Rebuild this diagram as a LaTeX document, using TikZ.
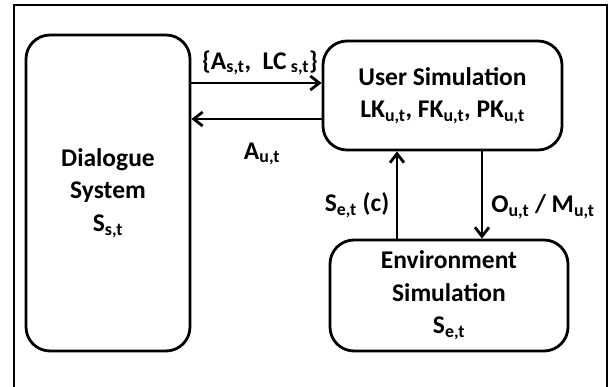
\documentclass[tikz,border=0pt]{standalone}
\usepackage{fontspec}
\setmainfont{Carlito}
\usetikzlibrary{arrows.meta}
\tikzset{
  blockbox/.style={draw, line width=2.8pt, rounded corners=24pt, align=center,
    font=\bfseries\fontsize{25.5}{32.5}\selectfont},
  flow/.style={->, line width=2.8pt},
  lbl/.style={font=\bfseries\fontsize{25.5}{30}\selectfont}
}
\begin{document}
\begin{tikzpicture}[x=1pt,y=-1pt,>={Straight Barb[length=9pt,width=14pt]}]
\useasboundingbox (0,0) rectangle (610,387);
\draw[line width=2.8pt] (14,390) -- (14,5) -- (607,5) -- (607,390);
\node[blockbox, minimum width=164pt, minimum height=316pt] (dlg) at (108,193)
  {Dialogue\\System\\S\textsubscript{s,t}};
\node[blockbox, minimum width=239pt, minimum height=109pt] (usr) at (442.5,95.5)
  {User Simulation\\LK\textsubscript{u,t}, FK\textsubscript{u,t}, PK\textsubscript{u,t}};
\node[blockbox, minimum width=238pt, minimum height=111pt] (env) at (449,295.5)
  {Environment\\Simulation\\S\textsubscript{e,t}};
\draw[flow] (dlg.east |- 0,83) -- (usr.west |- 0,83);
\draw[flow] (usr.west |- 0,119) -- (dlg.east |- 0,119);
\draw[flow] (env.north -| 397,0) -- (usr.south -| 397,0);
\draw[flow] (usr.south -| 482,0) -- (env.north -| 482,0);
\node[lbl] (la) at (260,63) {\{A\textsubscript{s,t}, \ LC\,\textsubscript{s,t}\}};
\node[lbl] (lb) at (262,154) {A\textsubscript{u,t}};
\node[lbl] (lc) at (357,205) {S\textsubscript{e,t} (c)};
\node[lbl] (ld) at (543,207) {O\textsubscript{u,t} / M\textsubscript{u,t}};
\end{tikzpicture}
\end{document}
